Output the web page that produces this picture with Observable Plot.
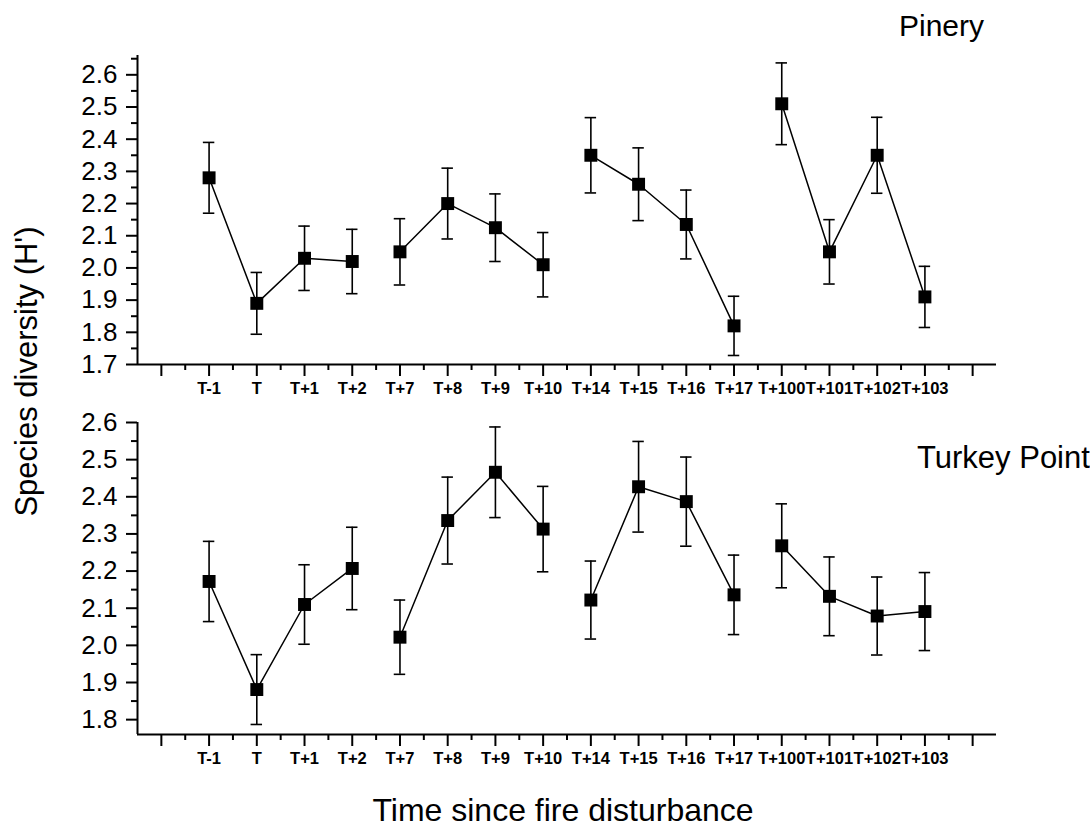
<!DOCTYPE html>
<html>
<head>
<meta charset="utf-8">
<script src="https://cdn.jsdelivr.net/npm/d3@7"></script>
<script src="https://cdn.jsdelivr.net/npm/@observablehq/plot@0.6"></script>
<style>
  html, body { margin: 0; padding: 0; background: #fff; }
  #wrap { position: relative; width: 1090px; height: 831px; font-family: "Liberation Sans", Arial, sans-serif; color: #000; overflow: hidden; }
  #wrap svg { position: absolute; left: 0; }
  .t { position: absolute; white-space: nowrap; line-height: 1; color: #000; }
  .xlab text { font-weight: bold; }
</style>
</head>
<body>
<div id="wrap"></div>
<script>
// Categories (time since fire) and grouping of connected runs
const categories = ["T-1","T","T+1","T+2","T+7","T+8","T+9","T+10","T+14","T+15","T+16","T+17","T+100","T+101","T+102","T+103"];
const runs = [1,1,1,1,2,2,2,2,3,3,3,3,4,4,4,4];

// Pinery: mean species diversity (H') and error half-width
const pineryMean = [2.28, 1.89, 2.03, 2.02, 2.05, 2.20, 2.125, 2.01, 2.35, 2.26, 2.135, 1.82, 2.51, 2.05, 2.35, 1.91];
const pineryErr  = [0.11, 0.096, 0.10, 0.10, 0.103, 0.11, 0.105, 0.10, 0.117, 0.113, 0.107, 0.092, 0.127, 0.10, 0.118, 0.095];

// Turkey Point: mean species diversity (H') and error half-width
const turkeyMean = [2.172, 1.881, 2.11, 2.207, 2.022, 2.336, 2.466, 2.313, 2.122, 2.427, 2.387, 2.136, 2.268, 2.132, 2.079, 2.091];
const turkeyErr  = [0.108, 0.094, 0.107, 0.111, 0.10, 0.117, 0.122, 0.115, 0.105, 0.122, 0.12, 0.107, 0.113, 0.106, 0.105, 0.105];

// Axis tick values
const pineryYTicks = [1.7, 1.8, 1.9, 2.0, 2.1, 2.2, 2.3, 2.4, 2.5, 2.6];
const turkeyYTicks = [1.8, 1.9, 2.0, 2.1, 2.2, 2.3, 2.4, 2.5, 2.6];
const xMajorTicks = d3.range(0, 18);
const xMinorTicks = d3.range(0.5, 17.5, 1);

const FONT = "Liberation Sans, Arial, sans-serif";

function panel({mean, err, yDomain, yTicks, height, marginTop, marginBottom}) {
  const data = categories.map((c, i) => ({x: i + 1, cat: c, run: runs[i], y: mean[i], lo: mean[i] - err[i], hi: mean[i] + err[i]}));
  const minor = [];
  for (let v = Math.round(yDomain[0] * 20); v <= Math.round(yDomain[1] * 20); v++) {
    if (v % 2 === 1) { const val = v / 20; if (val >= yDomain[0] && val <= yDomain[1]) minor.push(val); }
  }
  const capW = 0.12;
  return Plot.plot({
    width: 1090,
    height,
    marginLeft: 137,
    marginRight: 94,
    marginTop,
    marginBottom,
    style: {fontFamily: FONT, color: "#000", background: "transparent", overflow: "visible"},
    x: {type: "linear", domain: [-0.5, 17.5]},
    y: {domain: yDomain},
    marks: [
      Plot.axisY({ticks: yTicks, tickSize: 11, tickPadding: 9, tickFormat: d3.format(".1f"), fontSize: 26, strokeWidth: 2, label: null}),
      Plot.axisY({ticks: minor, tickSize: 6, tickFormat: () => "", strokeWidth: 2, label: null}),
      Plot.axisX({ticks: xMajorTicks, tickSize: 12, tickPadding: 6, tickFormat: d => categories[Math.round(d) - 1] ?? "", fontSize: 16.5, strokeWidth: 2, label: null, className: "xlab"}),
      Plot.axisX({ticks: xMinorTicks, tickSize: 6, tickFormat: () => "", strokeWidth: 2, label: null}),
      Plot.ruleX([-0.5], {y1: yDomain[0], y2: yDomain[1], strokeWidth: 2, stroke: "#000"}),
      Plot.ruleY([yDomain[0]], {x1: -0.5, x2: 17.5, strokeWidth: 2, stroke: "#000"}),
      Plot.line(data, {x: "x", y: "y", z: "run", stroke: "#000", strokeWidth: 1.5}),
      Plot.ruleX(data, {x: "x", y1: "lo", y2: "hi", stroke: "#000", strokeWidth: 1.6}),
      Plot.ruleY(data, {y: "hi", x1: d => d.x - capW, x2: d => d.x + capW, stroke: "#000", strokeWidth: 1.6}),
      Plot.ruleY(data, {y: "lo", x1: d => d.x - capW, x2: d => d.x + capW, stroke: "#000", strokeWidth: 1.6}),
      Plot.dot(data, {x: "x", y: "y", symbol: "square", r: 7.3, fill: "#000", stroke: "none"})
    ]
  });
}

const wrap = document.getElementById("wrap");

const topPanel = panel({mean: pineryMean, err: pineryErr, yDomain: [1.7, 2.66], yTicks: pineryYTicks, height: 400, marginTop: 55, marginBottom: 36});
topPanel.style.top = "0px";
wrap.appendChild(topPanel);

const bottomPanel = panel({mean: turkeyMean, err: turkeyErr, yDomain: [1.76, 2.6], yTicks: turkeyYTicks, height: 431, marginTop: 22, marginBottom: 97});
bottomPanel.style.top = "400px";
wrap.appendChild(bottomPanel);

function addText(txt, css) {
  const d = document.createElement("div");
  d.className = "t";
  d.textContent = txt;
  Object.assign(d.style, css);
  wrap.appendChild(d);
  return d;
}

addText("Pinery", {left: "899px", top: "11px", fontSize: "30px"});
addText("Turkey Point", {left: "917px", top: "442px", fontSize: "31px"});
addText("Time since fire disturbance", {left: "363px", width: "400px", textAlign: "center", top: "794px", fontSize: "32px"});
addText("Species diversity (H')", {left: "-174px", width: "400px", height: "31px", textAlign: "center", top: "356px", fontSize: "31px", transform: "rotate(-90deg)", transformOrigin: "50% 50%"});
</script>
</body>
</html>
